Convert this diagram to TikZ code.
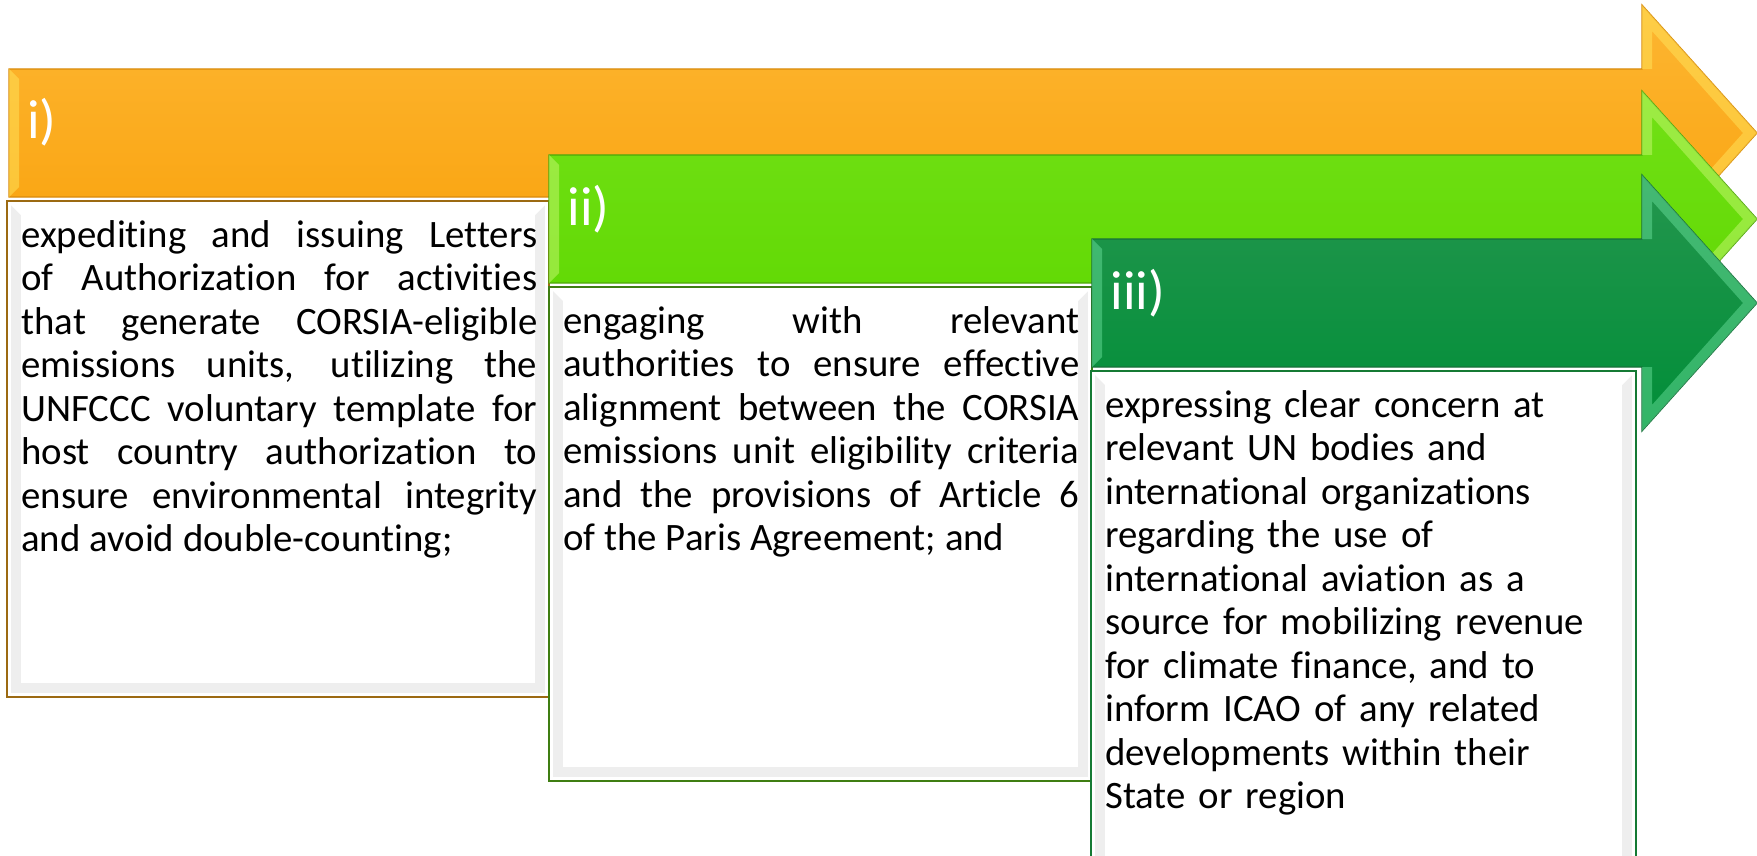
\documentclass[tikz,border=0pt]{standalone}
\usepackage{fontspec}
\setmainfont{Carlito}[Ligatures=NoCommon]
\usetikzlibrary{calc}

\definecolor{orgtop}{HTML}{FDB632}
\definecolor{orgbot}{HTML}{F9A20C}
\definecolor{orgline}{HTML}{D98B0C}
\definecolor{orglite}{HTML}{FFE55C}
\definecolor{orgbox}{HTML}{9C6A12}
\definecolor{lgtop}{HTML}{72E016}
\definecolor{lgbot}{HTML}{5ED800}
\definecolor{lgline}{HTML}{4DA80A}
\definecolor{lglite}{HTML}{C8F872}
\definecolor{lgbox}{HTML}{3F7E12}
\definecolor{dgtop}{HTML}{24964E}
\definecolor{dgbot}{HTML}{008E38}
\definecolor{dgline}{HTML}{17703A}
\definecolor{dglite}{HTML}{66DC98}
\definecolor{dgbox}{HTML}{157A34}

\tolerance=10000
\hbadness=10000
\hyphenpenalty=10000

\begin{document}
\begin{tikzpicture}[x=0.5pt,y=-0.5pt,
  stagelabel/.style={anchor=base west,inner sep=0pt,text=white,
    font=\fontsize{27.5}{30}\selectfont},
  stagetext/.style={anchor=north west,inner sep=0pt,text width=258pt,
    font=\fontsize{19.4}{21.75}\selectfont},
  bevel/.style={opacity=.5},
  textframe/.style={draw=#1,line width=1pt,fill=white,
    path picture={
      \fill[gray!13] ([shift={(2pt,2pt)}]path picture bounding box.south west)
        rectangle ([shift={(-2pt,-2pt)}]path picture bounding box.north east);
      \fill[white] ([shift={(2pt,-2pt)}]path picture bounding box.north west)
        -- ([shift={(-2pt,-2pt)}]path picture bounding box.north east)
        -- ([shift={(-7pt,-7pt)}]path picture bounding box.north east)
        -- ([shift={(7pt,-7pt)}]path picture bounding box.north west) -- cycle;
      \fill[white] ([shift={(7pt,7pt)}]path picture bounding box.south west)
        rectangle ([shift={(-7pt,-7pt)}]path picture bounding box.north east);
    }}]

% ---------- parameters ----------
\def\hx{1642}  % where the heads start
\def\tx{1757}  % tips of the heads

\clip (0,0) rectangle (1757,856);

% -------- i) orange --------
\shade[top color=orgtop,bottom color=orgbot,draw=orgline,line width=.6pt]
  (9,69) -- (\hx,69) -- (\hx,5) -- (\tx,133) -- (\hx,261) -- (\hx,197)
  -- (9,197) -- cycle;
\fill[orglite,bevel] (9,69) -- (19,79) -- (19,187) -- (9,197) -- cycle;
\fill[orglite,bevel] (\hx,69) -- (\hx,5) -- (\tx,133) -- (\hx,261) -- (\hx,197)
  -- ({\hx+10},197) -- ({\hx+10},235) -- ({\tx-14},133) -- ({\hx+10},31)
  -- ({\hx+10},69) -- cycle;
\node[stagelabel] (lbl1) at (27,139) {i)};

\path[textframe=orgbox] (7,201) rectangle (549,697);
\node[stagetext,align=justify] (txt1) at (21,216.5) {\strut expediting and
  issuing Letters\linebreak of Authorization for activities\linebreak that
  generate CORSIA-eligible\linebreak emissions units, utilizing
  the\linebreak UNFCCC voluntary template for\linebreak host country
  authorization to\linebreak ensure environmental integrity\linebreak and
  avoid double-counting;};

% -------- ii) light green --------
\shade[top color=lgtop,bottom color=lgbot,draw=lgline,line width=.6pt]
  (549,155) -- (\hx,155) -- (\hx,91) -- (\tx,219) -- (\hx,347) -- (\hx,283)
  -- (549,283) -- cycle;
\fill[lglite,bevel] (549,155) -- (559,165) -- (559,273) -- (549,283) -- cycle;
\fill[lglite,bevel] (\hx,155) -- (\hx,91) -- (\tx,219) -- (\hx,347) -- (\hx,283)
  -- ({\hx+10},283) -- ({\hx+10},321) -- ({\tx-14},219) -- ({\hx+10},117)
  -- ({\hx+10},155) -- cycle;
\node[stagelabel] (lbl2) at (567,225) {ii)};

\path[textframe=lgbox] (549,287) rectangle (1092,781);
\node[stagetext,align=justify] (txt2) at (563,302.5) {\strut engaging with
  relevant\linebreak authorities to ensure effective\linebreak alignment
  between the CORSIA\linebreak emissions unit eligibility criteria\linebreak
  and the provisions of Article 6\linebreak of the Paris Agreement; and};

% -------- iii) dark green --------
\shade[top color=dgtop,bottom color=dgbot,draw=dgline,line width=.6pt]
  (1092,239) -- (\hx,239) -- (\hx,175) -- (\tx,303) -- (\hx,431) -- (\hx,367)
  -- (1092,367) -- cycle;
\fill[dglite,bevel] (1092,239) -- (1102,249) -- (1102,357) -- (1092,367) -- cycle;
\fill[dglite,bevel] (\hx,239) -- (\hx,175) -- (\tx,303) -- (\hx,431) -- (\hx,367)
  -- ({\hx+10},367) -- ({\hx+10},405) -- ({\tx-14},303) -- ({\hx+10},201)
  -- ({\hx+10},239) -- cycle;
\node[stagelabel] (lbl3) at (1110,309) {iii)};

\path[textframe=dgbox] (1091,371) rectangle (1636,900);
\node[stagetext,align=left] (txt3) at (1105,386.5) {\strut expressing clear
  concern at\\ relevant UN bodies and\\ international organizations\\
  regarding the use of\\ international aviation as a\\ source for
  mobilizing revenue\\ for climate finance, and to\\ inform ICAO of any
  related\\ developments within their\\ State or region};

\end{tikzpicture}
\end{document}
